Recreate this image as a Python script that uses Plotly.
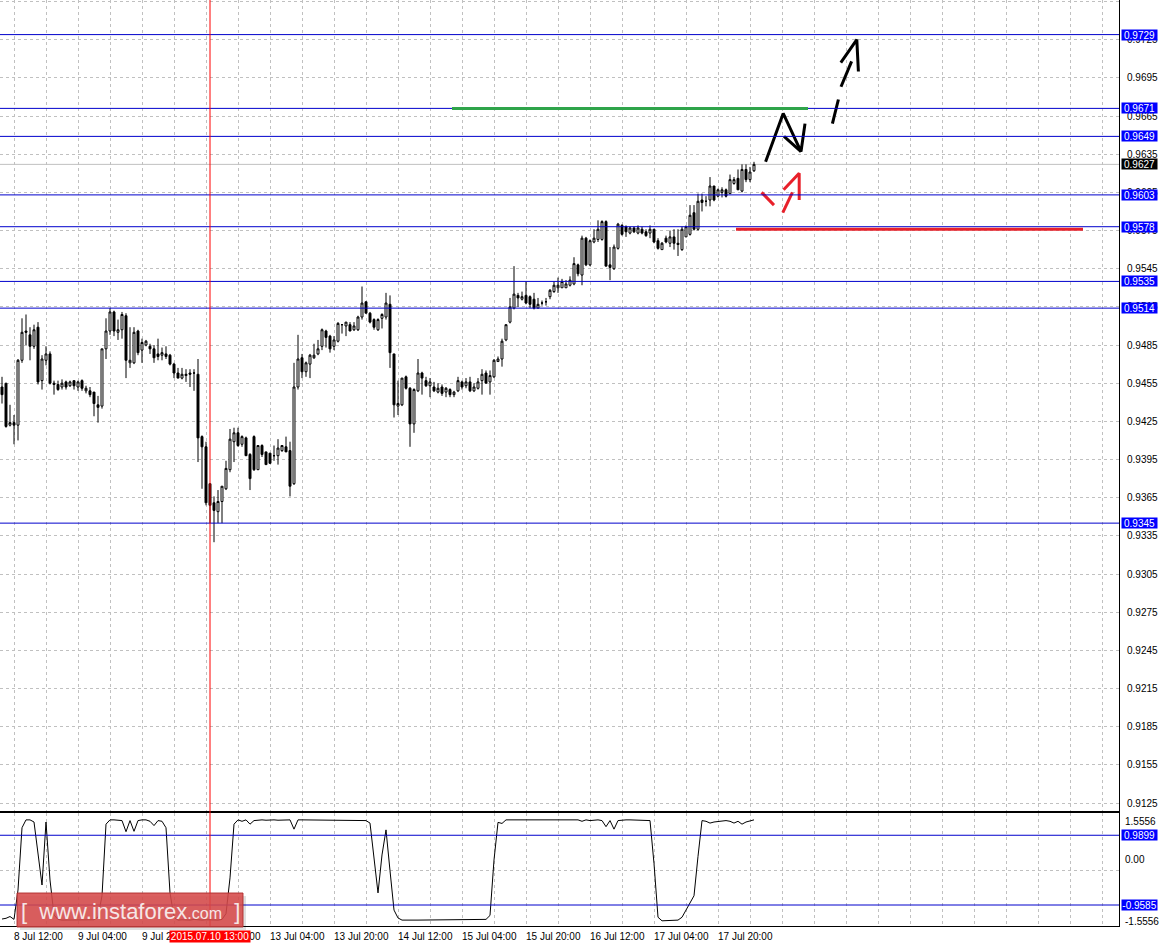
import plotly.graph_objects as go

# ---------------- data ----------------
opens = [
0.9452,0.9455,0.9422,0.9424,0.9422,0.9473,0.9496,0.9493,0.9484,0.9499,
0.9457,0.9473,0.9478,0.9455,0.9454,0.9452,0.9456,0.9453,0.9457,0.9452,
0.9457,0.9449,0.9449,0.9448,0.9438,0.9437,0.9482,0.9496,0.9511,0.9495,
0.9497,0.9508,0.9471,0.9471,0.9496,0.9481,0.9485,0.9484,0.9482,0.9478,
0.9477,0.9478,0.9477,0.9470,0.9463,0.9459,0.9461,0.9463,0.9463,0.9462,
0.9413,0.9405,0.9376,0.9361,0.9354,0.9362,0.9372,0.9387,0.9409,0.9416,
0.9407,0.9412,0.9399,0.9413,0.9387,0.9406,0.9401,0.9400,0.9398,0.9398,
0.9402,0.9405,0.9402,0.9376,0.9452,0.9475,0.9464,0.9470,0.9475,0.9478,
0.9484,0.9496,0.9492,0.9484,0.9488,0.9501,0.9500,0.9501,0.9497,0.9497,
0.9507,0.9519,0.9510,0.9505,0.9497,0.9506,0.9507,0.9517,0.9478,0.9437,
0.9438,0.9460,0.9451,0.9423,0.9449,0.9463,0.9457,0.9453,0.9452,0.9448,
0.9452,0.9448,0.9450,0.9446,0.9449,0.9456,0.9453,0.9456,0.9449,0.9451,
0.9457,0.9463,0.9456,0.9460,0.9472,0.9474,0.9489,0.9503,0.9514,0.9524,
0.9521,0.9524,0.9523,0.9521,0.9514,0.9518,0.9519,0.9523,0.9527,0.9530,
0.9530,0.9530,0.9532,0.9533,0.9548,0.9540,0.9569,0.9548,0.9566,0.9568,
0.9568,0.9582,0.9548,0.9545,0.9561,0.9579,0.9578,0.9573,0.9577,0.9573,
0.9576,0.9574,0.9573,0.9576,0.9567,0.9560,0.9569,0.9565,0.9570,0.9565,
0.9560,0.9570,0.9572,0.9589,0.9576,0.9599,0.9598,0.9599,0.9610,0.9602,
0.9605,0.9607,0.9604,0.9612,0.9616,0.9606,0.9623,0.9615,0.9622]
highs = [
0.9460,0.9455,0.9438,0.9430,0.9474,0.9506,0.9509,0.9499,0.9501,0.9503,
0.9477,0.9484,0.9480,0.9457,0.9457,0.9458,0.9457,0.9457,0.9457,0.9457,
0.9458,0.9453,0.9452,0.9448,0.9445,0.9482,0.9506,0.9514,0.9512,0.9505,
0.9511,0.9510,0.9499,0.9499,0.9497,0.9490,0.9489,0.9486,0.9485,0.9490,
0.9483,0.9484,0.9478,0.9471,0.9467,0.9467,0.9466,0.9466,0.9466,0.9474,
0.9414,0.9409,0.9376,0.9366,0.9371,0.9374,0.9394,0.9419,0.9420,0.9420,
0.9414,0.9413,0.9400,0.9414,0.9406,0.9407,0.9401,0.9400,0.9406,0.9411,
0.9406,0.9413,0.9409,0.9471,0.9493,0.9478,0.9472,0.9478,0.9486,0.9489,
0.9498,0.9497,0.9493,0.9492,0.9503,0.9501,0.9503,0.9503,0.9503,0.9508,
0.9531,0.9519,0.9511,0.9506,0.9506,0.9510,0.9526,0.9524,0.9478,0.9457,
0.9459,0.9461,0.9452,0.9451,0.9474,0.9464,0.9460,0.9459,0.9456,0.9455,
0.9454,0.9452,0.9451,0.9449,0.9460,0.9457,0.9459,0.9460,0.9455,0.9459,
0.9466,0.9465,0.9465,0.9474,0.9476,0.9490,0.9501,0.9522,0.9547,0.9526,
0.9527,0.9535,0.9524,0.9526,0.9522,0.9520,0.9522,0.9529,0.9535,0.9538,
0.9537,0.9536,0.9539,0.9554,0.9549,0.9571,0.9570,0.9568,0.9576,0.9583,
0.9583,0.9583,0.9562,0.9564,0.9581,0.9580,0.9579,0.9578,0.9578,0.9579,
0.9578,0.9576,0.9579,0.9576,0.9569,0.9566,0.9571,0.9575,0.9576,0.9576,
0.9578,0.9579,0.9595,0.9595,0.9604,0.9604,0.9602,0.9617,0.9610,0.9608,
0.9609,0.9608,0.9619,0.9617,0.9623,0.9627,0.9627,0.9625,0.9629]
lows = [
0.9439,0.9420,0.9421,0.9407,0.9410,0.9471,0.9485,0.9473,0.9482,0.9454,
0.9450,0.9469,0.9454,0.9446,0.9449,0.9450,0.9450,0.9452,0.9450,0.9449,
0.9449,0.9447,0.9444,0.9429,0.9424,0.9435,0.9474,0.9493,0.9492,0.9489,
0.9490,0.9459,0.9467,0.9470,0.9477,0.9471,0.9484,0.9478,0.9471,0.9473,
0.9473,0.9474,0.9469,0.9459,0.9459,0.9458,0.9456,0.9452,0.9449,0.9393,
0.9372,0.9359,0.9345,0.9330,0.9345,0.9345,0.9371,0.9385,0.9393,0.9405,
0.9405,0.9398,0.9371,0.9386,0.9387,0.9397,0.9391,0.9392,0.9394,0.9391,
0.9401,0.9401,0.9366,0.9375,0.9450,0.9459,0.9460,0.9459,0.9474,0.9477,
0.9481,0.9483,0.9479,0.9481,0.9487,0.9494,0.9492,0.9496,0.9496,0.9496,
0.9505,0.9510,0.9502,0.9497,0.9496,0.9498,0.9505,0.9467,0.9428,0.9430,
0.9437,0.9450,0.9405,0.9416,0.9448,0.9446,0.9452,0.9444,0.9448,0.9447,
0.9445,0.9444,0.9444,0.9444,0.9448,0.9450,0.9451,0.9448,0.9448,0.9450,
0.9446,0.9455,0.9446,0.9459,0.9472,0.9468,0.9488,0.9502,0.9513,0.9515,
0.9520,0.9517,0.9514,0.9513,0.9514,0.9516,0.9516,0.9521,0.9526,0.9526,
0.9530,0.9530,0.9531,0.9532,0.9539,0.9532,0.9547,0.9547,0.9565,0.9566,
0.9567,0.9547,0.9536,0.9544,0.9560,0.9571,0.9570,0.9572,0.9573,0.9572,
0.9572,0.9570,0.9569,0.9565,0.9560,0.9560,0.9565,0.9562,0.9560,0.9555,
0.9559,0.9570,0.9571,0.9575,0.9575,0.9590,0.9594,0.9594,0.9598,0.9601,
0.9601,0.9601,0.9604,0.9611,0.9607,0.9605,0.9613,0.9613,0.9621]
closes = [
0.9446,0.9421,0.9424,0.9422,0.9473,0.9495,0.9495,0.9484,0.9497,0.9456,
0.9474,0.9478,0.9455,0.9454,0.9450,0.9455,0.9452,0.9456,0.9453,0.9456,
0.9451,0.9451,0.9446,0.9439,0.9436,0.9482,0.9496,0.9511,0.9496,0.9497,
0.9509,0.9473,0.9473,0.9495,0.9479,0.9487,0.9488,0.9482,0.9475,0.9476,
0.9479,0.9476,0.9470,0.9463,0.9459,0.9462,0.9462,0.9462,0.9463,0.9412,
0.9405,0.9361,0.9359,0.9355,0.9362,0.9374,0.9388,0.9411,0.9416,0.9406,
0.9413,0.9398,0.9380,0.9387,0.9406,0.9399,0.9391,0.9392,0.9398,0.9404,
0.9406,0.9401,0.9374,0.9452,0.9474,0.9464,0.9471,0.9477,0.9477,0.9482,
0.9497,0.9491,0.9482,0.9489,0.9502,0.9501,0.9503,0.9496,0.9500,0.9507,
0.9518,0.9510,0.9503,0.9499,0.9505,0.9509,0.9518,0.9479,0.9438,0.9439,
0.9459,0.9451,0.9423,0.9450,0.9463,0.9459,0.9453,0.9456,0.9449,0.9451,
0.9447,0.9451,0.9446,0.9448,0.9457,0.9452,0.9456,0.9449,0.9452,0.9456,
0.9462,0.9455,0.9461,0.9473,0.9474,0.9488,0.9501,0.9515,0.9525,0.9522,
0.9523,0.9518,0.9517,0.9514,0.9517,0.9518,0.9519,0.9528,0.9532,0.9532,
0.9535,0.9533,0.9536,0.9549,0.9541,0.9569,0.9548,0.9567,0.9569,0.9576,
0.9582,0.9547,0.9546,0.9562,0.9580,0.9572,0.9574,0.9577,0.9574,0.9577,
0.9573,0.9571,0.9576,0.9566,0.9561,0.9565,0.9566,0.9570,0.9565,0.9564,
0.9576,0.9578,0.9587,0.9576,0.9598,0.9597,0.9598,0.9610,0.9599,0.9607,
0.9607,0.9602,0.9615,0.9615,0.9607,0.9623,0.9615,0.9621,0.9627]

indicator = [
-1.35,-1.33,-1.28,-1.36,-0.54,1.20,1.42,1.42,1.36,0.52,
-0.40,1.36,-0.26,-1.24,-1.36,-1.38,-1.38,-1.37,-1.38,-1.38,
-1.36,-1.38,-1.38,-1.37,-1.30,-0.70,1.30,1.42,1.42,1.42,
1.40,1.09,1.40,1.10,1.40,1.42,1.42,1.38,1.26,1.40,
1.38,1.20,-0.62,-1.30,-1.38,-1.37,-1.38,-1.38,-1.36,-1.38,
-1.38,-1.37,-1.38,-1.38,-1.38,-1.36,-1.20,-0.20,1.30,1.42,
1.38,1.42,1.30,1.40,1.42,1.42,1.41,1.42,1.42,1.41,
1.42,1.42,1.42,1.16,1.42,1.42,1.42,1.42,1.41,1.42,
1.42,1.42,1.42,1.40,1.42,1.42,1.42,1.42,1.42,1.41,
1.42,1.40,1.33,0.30,-0.62,0.44,1.14,0.00,-1.10,-1.32,
-1.38,-1.38,-1.37,-1.38,-1.38,-1.38,-1.37,-1.38,-1.38,-1.38,
-1.38,-1.37,-1.38,-1.38,-1.38,-1.38,-1.37,-1.38,-1.38,-1.38,
-1.37,-1.36,-1.25,0.30,1.35,1.32,1.42,1.42,1.42,1.42,
1.42,1.42,1.42,1.42,1.42,1.42,1.42,1.42,1.42,1.42,
1.42,1.42,1.42,1.42,1.42,1.38,1.42,1.40,1.42,1.42,
1.40,1.23,1.40,1.16,1.40,1.42,1.42,1.42,1.42,1.42,
1.42,1.42,1.40,0.20,-1.30,-1.40,-1.40,-1.40,-1.40,-1.38,
-1.30,-1.10,-0.93,-0.70,0.40,1.40,1.38,1.33,1.36,1.38,
1.40,1.40,1.38,1.33,1.38,1.30,1.36,1.40,1.42]

price_ticks = [0.9755, 0.9725, 0.9695, 0.9665, 0.9635, 0.9605, 0.9575, 0.9545,
               0.9515, 0.9485, 0.9455, 0.9425, 0.9395, 0.9365, 0.9335, 0.9305,
               0.9275, 0.9245, 0.9215, 0.9185, 0.9155, 0.9125]
levels = [0.9729, 0.9671, 0.9649, 0.9603, 0.9578, 0.9535, 0.9514, 0.9345]
current_price = 0.9627
ind_levels = [0.9899, -0.9585]
ind_labels = ["1.5556", "0.00", "-1.5556"]

time_label_bars = [3, 19, 35, 51, 67, 83, 99, 115, 131, 147, 163, 179]
time_labels = ["8 Jul 12:00", "9 Jul 04:00", "9 Jul 20:00", "10 Jul 12:00",
               "13 Jul 04:00", "13 Jul 20:00", "14 Jul 12:00", "15 Jul 04:00",
               "15 Jul 20:00", "16 Jul 12:00", "17 Jul 04:00", "17 Jul 20:00"]
cursor_bar = 52
cursor_label = "2015.07.10 13:00"

green_level = (112.5, 201.5, 0.9671)
red_level = (183.5, 270.25, 0.9576)
black_strokes = [
    [(190.9, 0.9629), (195.3, 0.9667), (199.75, 0.9637), (200.75, 0.9659)],
    [(195.5, 0.9649), (199.75, 0.9637)],
    [(207.6, 0.9659), (209.1, 0.9678)],
    [(209.75, 0.9688), (212.4, 0.9708)],
    [(209.7, 0.9707), (213.7, 0.9725), (214.1, 0.9700)],
]
red_strokes = [
    [(189.9, 0.9605), (193.0, 0.9595)],
    [(195.2, 0.9589), (197.6, 0.9605)],
    [(195.4, 0.9607), (199.3, 0.9620), (199.3, 0.9599)],
]

# ---------------- layout helpers ----------------
W, H = 1161, 943
def px_x(p):
    return p / W
def px_y(p):
    return 1 - p / H

FONT = "Liberation Sans"
FS = 10
BLUE_LINE = "#0000CC"
BLUE_BOX = "#0000FF"
GRID = "#C0C0C0"
bars = list(range(len(opens)))
XR = [-0.5, 279.25]
grid_bars = [3 + 8 * k for k in range(36)]

fig = go.Figure()
fig.add_trace(go.Candlestick(
    x=bars, open=opens, high=highs, low=lows, close=closes,
    increasing=dict(line=dict(color="black", width=1), fillcolor="white"),
    decreasing=dict(line=dict(color="black", width=1), fillcolor="black"),
    whiskerwidth=0, xaxis="x", yaxis="y", hoverinfo="skip", showlegend=False))

def strokes_xy(strokes):
    xs, ys = [], []
    for s in strokes:
        for (a, b) in s:
            xs.append(a); ys.append(b)
        xs.append(None); ys.append(None)
    return xs, ys

bx, by = strokes_xy(black_strokes)
fig.add_trace(go.Scatter(x=bx, y=by, mode="lines", line=dict(color="black", width=3),
                         xaxis="x", yaxis="y", showlegend=False, hoverinfo="skip"))
rx, ry = strokes_xy(red_strokes)
fig.add_trace(go.Scatter(x=rx, y=ry, mode="lines", line=dict(color="#E8202A", width=3),
                         xaxis="x", yaxis="y", showlegend=False, hoverinfo="skip"))

fig.add_trace(go.Scatter(x=bars, y=indicator, mode="lines", line=dict(color="black", width=1),
                         xaxis="x2", yaxis="y2", showlegend=False, hoverinfo="skip"))

shapes = []
shapes.append(dict(type="line", xref="paper", x0=0, x1=px_x(1119), yref="y",
                   y0=current_price, y1=current_price, line=dict(color=GRID, width=1), layer="below"))
for lv in levels:
    shapes.append(dict(type="line", xref="paper", x0=0, x1=px_x(1119), yref="y",
                       y0=lv, y1=lv, line=dict(color=BLUE_LINE, width=1)))
for lv in ind_levels:
    shapes.append(dict(type="line", xref="paper", x0=0, x1=px_x(1119), yref="y2",
                       y0=lv, y1=lv, line=dict(color=BLUE_LINE, width=1)))
shapes.append(dict(type="line", xref="x", x0=green_level[0], x1=green_level[1], yref="y",
                   y0=green_level[2], y1=green_level[2], line=dict(color="#2FA44A", width=3)))
shapes.append(dict(type="line", xref="x", x0=red_level[0], x1=red_level[1], yref="y",
                   y0=red_level[2], y1=red_level[2], line=dict(color="#E8202A", width=3)))
shapes.append(dict(type="line", xref="x", x0=cursor_bar, x1=cursor_bar, yref="paper",
                   y0=px_y(926), y1=1, line=dict(color="#FF0000", width=1)))
shapes.append(dict(type="rect", xref="paper", yref="paper", x0=px_x(20), x1=px_x(246),
                   y0=px_y(930), y1=px_y(896), fillcolor="rgba(0,0,0,0.12)", line=dict(width=0)))
shapes.append(dict(type="rect", xref="paper", yref="paper", x0=px_x(17), x1=px_x(243),
                   y0=px_y(927), y1=px_y(893), fillcolor="rgba(214,74,74,0.88)",
                   line=dict(color="rgba(175,45,45,0.9)", width=1)))

annotations = []
def right_box(yval, yref, text, bg):
    return dict(xref="paper", x=px_x(1121), xanchor="left", yref=yref, y=yval, yanchor="middle",
                text=text, showarrow=False, bgcolor=bg, font=dict(family=FONT, size=FS, color="white"),
                width=35, height=10, align="center", borderpad=0)

for lv in levels:
    annotations.append(right_box(lv, "y", f"{lv:.4f}", BLUE_BOX))
annotations.append(right_box(current_price, "y", f"{current_price:.4f}", "black"))
for lv in ind_levels:
    annotations.append(right_box(lv, "y2", f"{lv:.4f}", BLUE_BOX))
for txt, py in zip(ind_labels, [821, 859, 921]):
    annotations.append(dict(xref="paper", x=px_x(1123), xanchor="left", yref="paper", y=px_y(py),
                            yanchor="middle", text=txt, showarrow=False,
                            font=dict(family=FONT, size=FS, color="black")))
for b, t in zip(time_label_bars, time_labels):
    annotations.append(dict(xref="x", x=b - 0.4, xanchor="left", yref="paper", y=px_y(936),
                            yanchor="middle", text=t, showarrow=False,
                            font=dict(family=FONT, size=FS, color="black")))
annotations.append(dict(xref="x", x=cursor_bar, xanchor="center", yref="paper", y=px_y(936),
                        yanchor="middle", text=cursor_label, showarrow=False, bgcolor="#FF0000",
                        width=80, height=11, borderpad=0,
                        font=dict(family=FONT, size=FS, color="white")))
annotations.append(dict(xref="paper", x=px_x(130), xanchor="center", yref="paper", y=px_y(911),
                        yanchor="middle",
                        text="[  www.instaforex<span style='font-size:16px'>.com</span>  ]",
                        showarrow=False, font=dict(family=FONT, size=22, color="#F6E6E6")))

fig.update_layout(
    width=W, height=H, margin=dict(l=0, r=0, t=0, b=0),
    paper_bgcolor="white", plot_bgcolor="white", hovermode=False, showlegend=False,
    shapes=shapes, annotations=annotations,
    xaxis=dict(domain=[0, px_x(1119)], range=XR, anchor="y", tickvals=grid_bars,
               showticklabels=False, ticks="", showgrid=True, gridcolor=GRID, griddash="3px,3px",
               gridwidth=1, zeroline=False, showline=True, linecolor="black", linewidth=1,
               rangeslider=dict(visible=False), fixedrange=True),
    yaxis=dict(domain=[px_y(811), 1], range=[0.911872, 0.97562], anchor="x", side="right",
               tickvals=price_ticks, ticktext=[f"{v:.4f}" for v in price_ticks],
               tickfont=dict(family=FONT, size=FS, color="black"), ticks="", ticklabelstandoff=5,
               showgrid=True, gridcolor=GRID, griddash="3px,3px", gridwidth=1, zeroline=False,
               showline=True, linecolor="black", linewidth=1),
    xaxis2=dict(domain=[0, px_x(1119)], range=XR, anchor="y2", tickvals=grid_bars,
                showticklabels=False, ticks="", showgrid=True, gridcolor=GRID, griddash="3px,3px",
                zeroline=False, showline=True, mirror=True, linecolor="black", linewidth=1),
    yaxis2=dict(domain=[px_y(926), px_y(813)], range=[-1.5447, 1.6117], anchor="x2", side="right",
                tickvals=[0], showticklabels=False, ticks="", showgrid=True, gridcolor=GRID,
                griddash="3px,3px", zeroline=False, showline=True, linecolor="black", linewidth=1),
)

fig.write_html("out.html", config={"displayModeBar": False},
               post_script="document.body.style.margin='0';document.body.style.overflow='hidden';")
